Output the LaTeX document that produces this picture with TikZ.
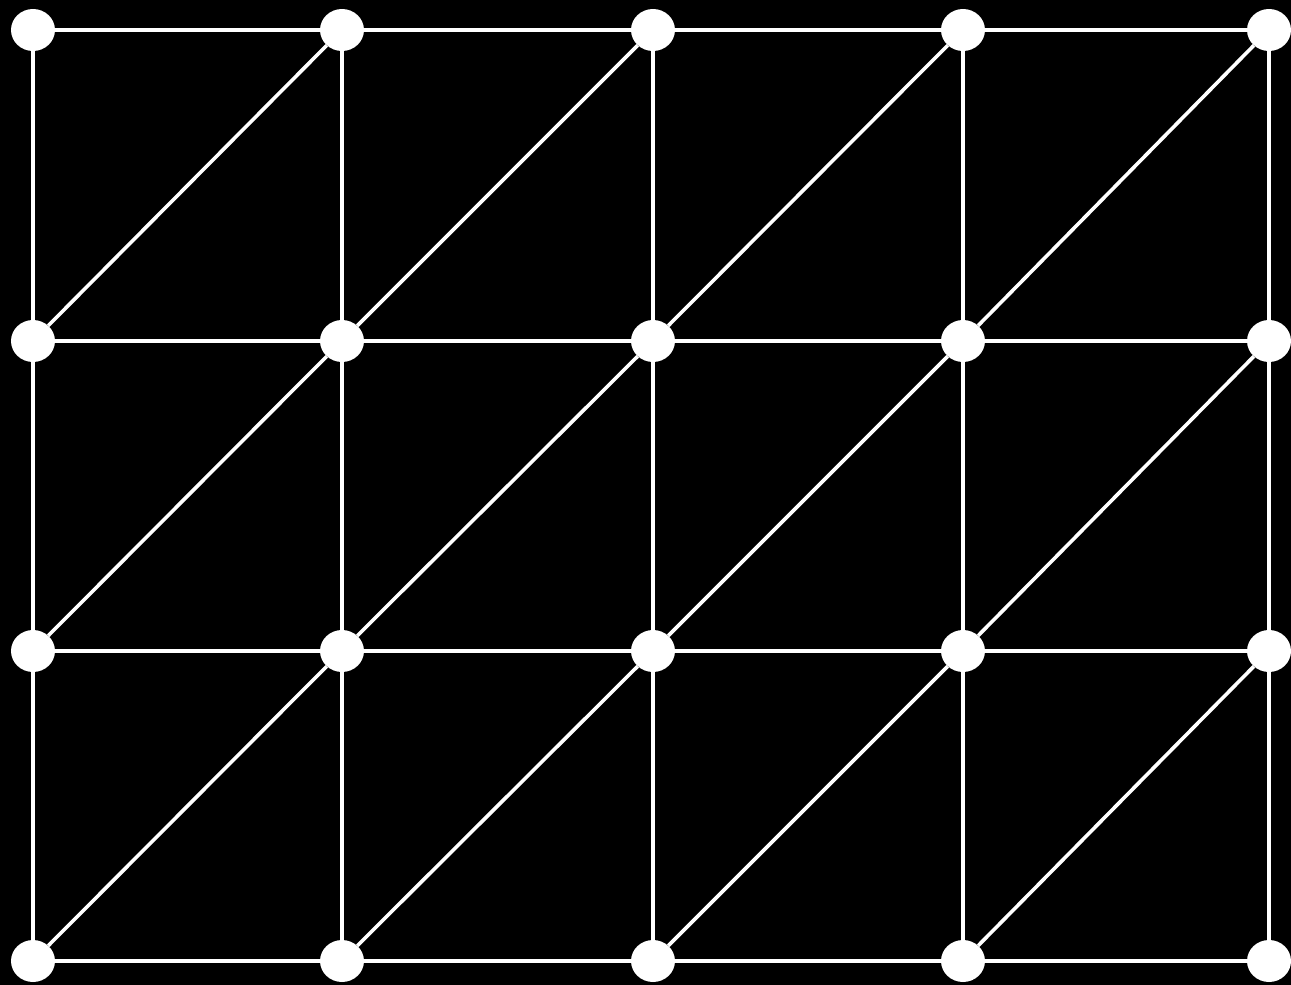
\documentclass[tikz,border=0pt]{standalone}
\usetikzlibrary{shapes.geometric}
\begin{document}
\begin{tikzpicture}[x=1pt,y=-1pt,
  vertex/.style={ellipse,fill=white,draw=none,minimum width=44pt,minimum height=42pt,inner sep=0pt},
  edge/.style={draw=white,line width=3.6pt}]
\fill[black] (0,0) rectangle (1291,985);
\useasboundingbox (0,0) rectangle (1291,985);
\def\xs{{33,342,653,963,1269}}
\def\ys{{30,341,651,961}}
\foreach \i in {0,...,4}{
  \foreach \j in {0,...,3}{
    \pgfmathsetmacro\px{\xs[\i]}
    \pgfmathsetmacro\py{\ys[\j]}
    \node[vertex] (n\i\j) at (\px,\py) {};
  }
}
% horizontal edges
\foreach \i [evaluate=\i as \k using int(\i+1)] in {0,...,3}{
  \foreach \j in {0,...,3}{
    \draw[edge] (n\i\j) -- (n\k\j);
  }
}
% vertical edges
\foreach \i in {0,...,4}{
  \foreach \j [evaluate=\j as \l using int(\j+1)] in {0,...,2}{
    \draw[edge] (n\i\j) -- (n\i\l);
  }
}
% diagonals: bottom-left to top-right
\foreach \i [evaluate=\i as \k using int(\i+1)] in {0,...,3}{
  \foreach \j [evaluate=\j as \l using int(\j+1)] in {0,...,2}{
    \draw[edge] (n\i\l) -- (n\k\j);
  }
}
\end{tikzpicture}
\end{document}
